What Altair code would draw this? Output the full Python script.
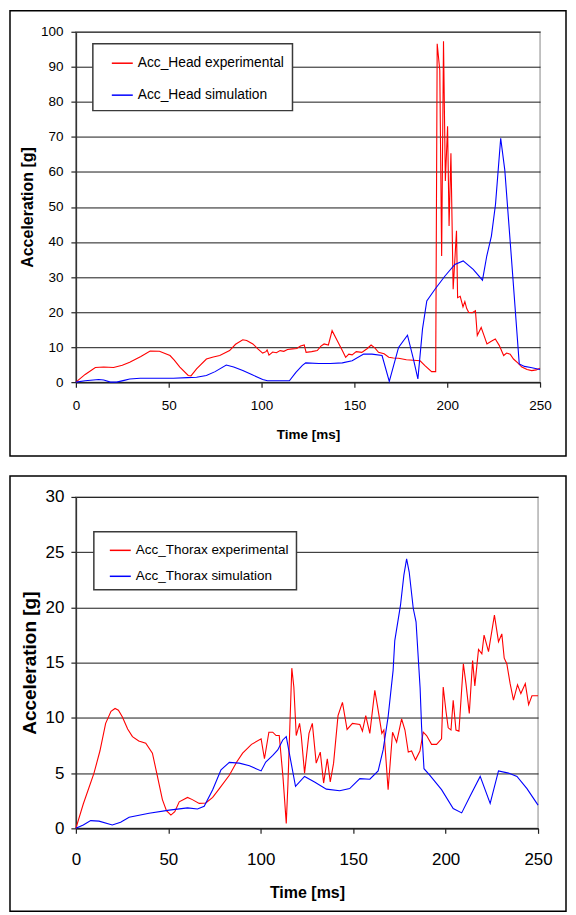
import altair as alt
import pandas as pd

FONT = "Liberation Sans"

# ---------------- Top panel: head acceleration ----------------
head_names = ["Acc_Head experimental", "Acc_Head simulation"]

head_exp_t = [0, 5, 10.5, 15, 20.3, 25, 29, 35, 40, 45, 50.7, 53, 56, 60.5, 62, 65, 70.3, 74, 77.5, 82.8,
              86, 89.9, 92, 95.3, 98, 100.6, 102.4, 103, 104, 106, 108, 110, 112, 114, 116.7, 119, 121, 123,
              124, 127, 130, 132, 133.7, 136, 138, 140.8, 143.5, 145.3, 147, 148.8, 151, 154, 157, 159, 161,
              163, 166, 168.5, 171, 173.8, 178, 185.4, 188, 191.6, 193.8, 194.6, 196, 197, 198, 199, 200.2,
              201, 202, 203.2, 205, 205.6, 207, 208.5, 209.5, 210.5, 211.6, 213.5, 215.2, 216.2, 218.3, 219.7,
              221.4, 223.5, 225.9, 228, 230.4, 232, 233.9, 235.7, 238, 240.2, 243, 245.5, 248, 250]
head_exp_v = [0, 2.2, 4.2, 4.3, 4.2, 4.8, 5.7, 7.3, 8.9, 8.8, 7.6, 6.3, 4.3, 1.9, 1.8, 3.8, 6.6, 7.2, 7.6, 9.0,
              10.8, 12.1, 11.9, 10.9, 9.5, 8.3, 8.7, 9.2, 7.7, 8.6, 8.4, 9.0, 8.8, 9.3, 9.5, 9.6, 10.3, 10.6,
              8.5, 8.7, 9.0, 10.3, 10.9, 10.6, 14.7, 11.8, 9.0, 7.1, 8.0, 7.8, 8.7, 8.5, 9.6, 10.6, 9.8,
              8.5, 8.1, 7.1, 6.9, 6.8, 6.4, 6.1, 4.7, 3.0, 3.0, 96.6, 89, 36, 97.3, 57.4, 73,
              44.6, 65.3, 26.5, 43.2, 24.1, 24.5, 21.5, 23, 21, 19.9, 19.8, 20.4, 13.3, 15.6, 13.5,
              10.9, 11.6, 12.3, 10.5, 7.6, 8.3, 8.0, 6.6, 5.5, 4.3, 3.6, 3.3, 3.5, 4.0]

head_sim_t = [0, 5, 12.3, 15, 18.6, 22, 26, 29, 34.6, 45, 52.5, 60, 65, 70.3, 75, 81, 85, 89.9, 95, 100.6,
              103.2, 110, 115, 118.5, 122, 123.8, 130.9, 137, 143.5, 148.8, 155, 159.5, 164.9, 168.8, 173.8,
              178.6, 181.8, 184.2, 186.7, 189, 193.4, 198.8, 204.1, 208.6, 214, 219, 221.3, 223.8, 226,
              228.8, 231, 234.5, 238.8, 241.6, 245, 250]
head_sim_v = [0, 0.4, 0.75, 0.6, 0, 0, 0.5, 0.9, 1.1, 1.1, 1.1, 1.3, 1.4, 1.9, 3.0, 4.9, 4.3, 3.3, 2.1, 0.75,
              0.4, 0.4, 0.4, 2.8, 4.8, 5.5, 5.3, 5.3, 5.5, 6.1, 8.0, 8.0, 7.6, 0.2, 9.9,
              13.4, 6.6, 0.9, 15.2, 23.2, 26.5, 30.3, 33.6, 34.6, 32.2, 29.1, 36, 41.7, 50.7,
              69.6, 60.6, 36, 5.2, 4.5, 4.2, 3.6]

# ---------------- Bottom panel: thorax acceleration ----------------
thorax_names = ["Acc_Thorax experimental", "Acc_Thorax simulation"]

thorax_exp_t = [0, 4, 9.8, 13, 16.1, 19, 21.2, 23, 25.1, 28, 30.6, 34, 37.8, 41.4, 44, 46.8, 49, 51.4, 53.5,
                55.9, 60.4, 63, 66.7, 70.3, 74, 77.6, 83, 87, 90.2, 95, 100.2, 102, 104.4, 106.5, 108.3, 110,
                112, 113.8, 114.7, 116.8, 117.9, 119.2, 121, 121.9, 123.7, 126.1, 127.9, 130, 132.2, 134, 136,
                137.6, 139.4, 141.8, 144.2, 146.7, 149.6, 153.6, 155, 156.8, 159, 161.7, 163.5, 165.5, 166.6,
                168.9, 171.3, 173.5, 176.2, 178, 179.8, 181.6, 183.7, 186.1, 187.9, 189.7, 192.4, 195.1, 197.8,
                198.7, 200.2, 201.4, 202.9, 204.1, 205.6, 207.2, 209.6, 211, 212.8, 214.6, 215.8, 217.8, 219.6,
                220.8, 223.2, 226.4, 228.6, 230.4, 231.7, 233.1, 234.9, 236.7, 238.9, 240.7, 243.1, 244.9,
                246.7, 250]
thorax_exp_v = [0, 2.2, 5.0, 7.0, 9.5, 10.6, 10.85, 10.7, 10.1, 9.0, 8.3, 7.9, 7.7, 6.8, 4.8, 2.6, 1.6, 1.2, 1.5,
                2.4, 2.8, 2.6, 2.26, 2.3, 2.8, 3.6, 4.8, 6.0, 6.8, 7.6, 8.1, 6.3, 8.7, 8.7, 8.4, 8.4,
                4.7, 0.45, 4.0, 14.5, 12.8, 8.4, 9.5, 8.4, 5.0, 8.6, 9.5, 5.9, 6.9, 4.1, 6.3,
                4.2, 5.9, 10.2, 11.4, 8.95, 9.5, 9.4, 8.8, 10.2, 8.6, 12.5, 10.7, 8.6, 8.9,
                3.5, 8.7, 7.8, 9.9, 8.9, 6.9, 7.0, 6.2, 7.0, 8.7, 8.4, 7.6, 7.6, 8.1,
                12.8, 10.6, 9.1, 8.9, 11.6, 8.9, 8.8, 14.9, 13.1, 10.4, 15.2, 12.9, 16.2, 15.8,
                17.5, 16.0, 19.3, 16.9, 17.6, 15.4, 14.9, 13.1, 11.6, 13.0, 12.2, 13.1, 11.2,
                12.0, 12.0]

thorax_sim_t = [0, 4, 8, 12.5, 19.7, 24.2, 28.8, 39.6, 50.5, 60.4, 65.8, 69.4, 74, 78.5, 83, 88.4, 93.9, 100.2,
                102.7, 106.5, 109.2, 111.9, 113.8, 118.8, 123.7, 129.1, 135.5, 142.7, 148.1, 153.6, 159, 163.5,
                166.2, 168.9, 171.6, 172.5, 175.6, 177.4, 178.9, 180.3, 182.5, 184, 186.2, 187, 188.3, 191.5,
                197.8, 204.1, 208.7, 213.2, 218.7, 224.1, 228.6, 234, 238.6, 244, 250]
thorax_sim_v = [0, 0.3, 0.7, 0.65, 0.3, 0.55, 1.0, 1.36, 1.65, 1.85, 1.75, 2.0, 3.5, 5.3, 5.97, 5.9, 5.66, 5.2,
                6.0, 6.6, 7.1, 8.0, 8.3, 3.8, 4.7, 4.2, 3.55, 3.4, 3.6, 4.5, 4.45, 5.2,
                7.1, 10.1, 14.3, 17.0, 20.2, 22.9, 24.4, 23.2, 19.9, 18.7, 12.7, 9.2, 5.4, 4.8,
                3.5, 1.8, 1.4, 2.9, 4.7, 2.26, 5.2, 5.0, 4.7, 3.6, 2.1]

x_ticks = [0, 50, 100, 150, 200, 250]
colors = ["#ff0000", "#0000ff"]


def build(names, et, ev, st, sv):
    return pd.DataFrame({
        "t": et + st,
        "v": ev + sv,
        "series": [names[0]] * len(et) + [names[1]] * len(st),
    })


def panel(df, names, ymax, ystep, w, h, frame, fs, leg):
    lines = alt.Chart(df).mark_line(strokeWidth=1.1, clip=False).encode(
        x=alt.X("t:Q", scale=alt.Scale(domain=[0, 250], nice=False),
                axis=alt.Axis(values=x_ticks, title="Time [ms]", titleFont=FONT,
                              titleFontSize=fs["xt"], titleFontWeight="bold", titleColor="black",
                              titleY=fs["xty"], titleBaseline="alphabetic",
                              labelFont=FONT, labelFontSize=fs["lab"], labelColor="black",
                              labelPadding=fs["xlp"], labelFlush=False, labelOverlap=False,
                              tickSize=5, tickColor="#222", tickWidth=1.2,
                              domainColor="#222", domainWidth=1.5, grid=False)),
        y=alt.Y("v:Q", scale=alt.Scale(domain=[0, ymax], nice=False),
                axis=alt.Axis(values=list(range(0, ymax + 1, ystep)), title="Acceleration [g]",
                              titleFont=FONT, titleFontSize=fs["yt"], titleFontWeight="bold",
                              titleColor="black", titleAngle=270, titleX=fs["ytx"],
                              titleBaseline="alphabetic",
                              labelFont=FONT, labelFontSize=fs["lab"], labelColor="black",
                              labelPadding=fs["ylp"], labelOverlap=False,
                              tickSize=5, tickColor="#222", tickWidth=1.2,
                              domainColor="#333", domainWidth=1.5,
                              grid=True, gridColor="#1a1a1a", gridWidth=1)),
        color=alt.Color("series:N", scale=alt.Scale(domain=names, range=colors),
                        legend=alt.Legend(title=None, orient="none", legendX=leg["x"], legendY=leg["y"],
                                          direction="vertical", symbolType="stroke", symbolSize=441,
                                          symbolStrokeWidth=1.5, labelFont=FONT,
                                          labelFontSize=leg["fs"], labelColor="black", labelLimit=400,
                                          padding=leg["pad"], rowPadding=leg["rp"],
                                          symbolOffset=leg["so"], labelOffset=4,
                                          strokeColor="#3a3a3a", fillColor="white")),
    )
    box = alt.Chart(pd.DataFrame({"f": [0]})).mark_rect(
        fillOpacity=0, stroke="black", strokeWidth=1.5, clip=False
    ).encode(x=alt.value(frame[0]), x2=alt.value(frame[1]),
             y=alt.value(frame[2]), y2=alt.value(frame[3]))
    return alt.layer(box, lines).properties(width=w, height=h)


top = panel(build(head_names, head_exp_t, head_exp_v, head_sim_t, head_sim_v), head_names,
            100, 10, 465, 351, (-66, 491, -21, 425),
            {"xt": 13.5, "xty": 56, "yt": 16, "ytx": -43, "lab": 13.5, "xlp": 11, "ylp": 8},
            {"x": 17, "y": 12, "fs": 13.8, "pad": 8, "rp": 13, "so": 10})

bottom = panel(build(thorax_names, thorax_exp_t, thorax_exp_v, thorax_sim_t, thorax_sim_v), thorax_names,
               30, 5, 463, 332, (-66, 491, -21, 415),
               {"xt": 16, "xty": 69, "yt": 19, "ytx": -40, "lab": 17, "xlp": 18, "ylp": 7},
               {"x": 18, "y": 35, "fs": 13.5, "pad": 7, "rp": 8, "so": 8})

chart = alt.ConcatChart(concat=[top, bottom], columns=1, spacing=16, align="none").resolve_scale(
    x="independent", y="independent", color="independent"
).resolve_legend(color="independent").properties(
    padding={"left": 0, "top": 0, "right": 0, "bottom": 0}
).configure(padding=0).configure_view(
    stroke="#b0b0b0", strokeWidth=1.5
).configure_legend(strokeWidth=1.5)

chart.save("out.html", embed_options={"renderer": "svg", "actions": False})
